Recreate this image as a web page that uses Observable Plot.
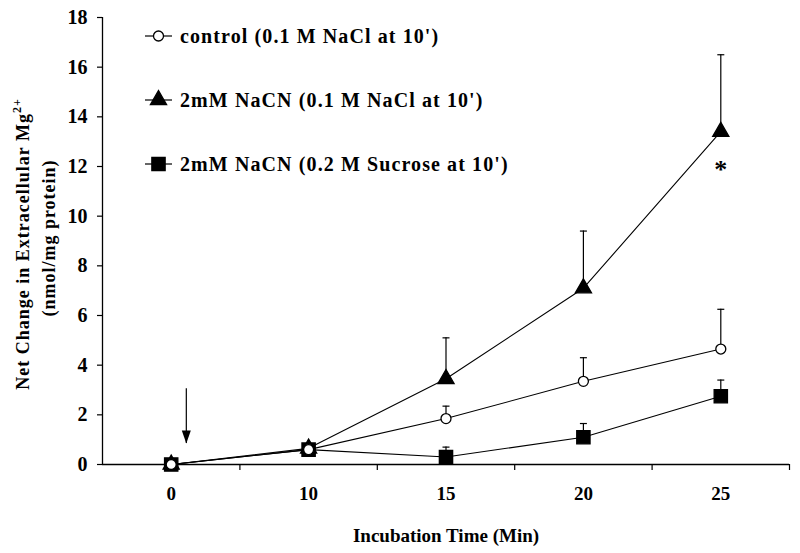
<!DOCTYPE html>
<html><head><meta charset="utf-8">
<script src="https://cdn.jsdelivr.net/npm/d3@7"></script>
<script src="https://cdn.jsdelivr.net/npm/@observablehq/plot@0.6"></script>
<style>body{margin:0;background:#fff}</style>
</head><body><div id="chart"></div>
<script>
// ---- data ----
const times = ["0", "10", "15", "20", "25"];
const controlMean = [0, 0.6, 1.85, 3.35, 4.65];
const controlErr  = [0, 0.12, 0.5, 0.95, 1.6];
const cnNaClMean  = [0, 0.65, 3.45, 7.1, 13.4];
const cnNaClErr   = [0, 0.1, 1.65, 2.3, 3.1];
const cnSucMean   = [0, 0.6, 0.3, 1.1, 2.75];
const cnSucErr    = [0, 0.12, 0.4, 0.55, 0.65];
const seriesNames = ["control (0.1 M NaCl at 10')", "2mM NaCN (0.1 M NaCl at 10')", "2mM NaCN (0.2 M Sucrose at 10')"];
const yTicks = [0, 2, 4, 6, 8, 10, 12, 14, 16, 18];
const yTitle = ["Net Change in Extracellular Mg", "(nmol/mg protein)"];
const xTitle = "Incubation Time (Min)";
const arrowMark = [{i: 0.11, from: 3.05, to: 0.85}];
const starMark = [{i: 4, v: 12.1, label: "*"}];

// ---- build ----
const idx = times.map((t, i) => i);
const rows = (mean, err) => times.map((t, i) => ({i, v: mean[i], hi: mean[i] + err[i]}));
const ctrl = rows(controlMean, controlErr);
const cnNaCl = rows(cnNaClMean, cnNaClErr);
const cnSuc = rows(cnSucMean, cnSucErr);

const capSymbol = {draw(ctx) { ctx.moveTo(-3.5, 0); ctx.lineTo(3.5, 0); }};
const headSymbol = {draw(ctx) { ctx.moveTo(-4.5, -13); ctx.lineTo(4.5, -13); ctx.lineTo(0, 0); ctx.closePath(); }};

const font = "'Liberation Serif', 'Times New Roman', serif";
const ML = 102, MR = 11, MT = 17, MB = 89, W = 800, H = 553;

const symbols = ["circle", "triangle", "square"];
const symR = [5, 6, 7.5];
const symFill = ["#fff", "#000", "#000"];

function errMarks(data) {
  return [
    Plot.ruleX(data.filter(d => d.hi > d.v), {x: "i", y1: "v", y2: "hi", stroke: "#000", strokeWidth: 1.2}),
    Plot.dot(data.filter(d => d.hi > d.v), {x: "i", y: "hi", symbol: capSymbol, r: 4, stroke: "#000", fill: "none", strokeWidth: 1.2})
  ];
}
function seriesMarks(data, k) {
  return [
    Plot.line(data, {x: "i", y: "v", stroke: "#000", strokeWidth: 1.1}),
    Plot.dot(data, {x: "i", y: "v", symbol: symbols[k], r: symR[k], fill: symFill[k], stroke: "#000", strokeWidth: 1.3})
  ];
}

function legendMark() {
  const g = d3.create("svg:g").attr("text-anchor", "start");
  const rowsY = [36, 100, 164];
  seriesNames.forEach((name, k) => {
    const y = rowsY[k];
    g.append("line").attr("x1", 145).attr("x2", 172).attr("y1", y).attr("y2", y).attr("stroke", "#000").attr("stroke-width", 1.2);
    const sym = d3.symbol(k === 0 ? d3.symbolCircle : k === 1 ? d3.symbolTriangle : d3.symbolSquare, Math.PI * symR[k] * symR[k])();
    g.append("path").attr("d", sym).attr("transform", `translate(158.5,${y})`).attr("fill", symFill[k]).attr("stroke", "#000").attr("stroke-width", 1.3);
    g.append("text").attr("x", 180).attr("y", y).attr("dy", "0.35em").attr("text-anchor", "start")
      .attr("font-family", font).attr("font-weight", "bold")
      .attr("font-size", 20).attr("letter-spacing", 1.1).text(name);
  });
  return g.node();
}

function yTitleMark() {
  const g = d3.create("svg:g").attr("font-family", font).attr("font-weight", "bold").attr("font-size", 18).attr("text-anchor", "middle").attr("letter-spacing", 1);
  const t1 = g.append("text").attr("transform", "translate(29,244) rotate(-90)");
  t1.append("tspan").text(yTitle[0]);
  t1.append("tspan").attr("font-size", 12).attr("dy", "-0.7em").text("2+");
  g.append("text").attr("transform", "translate(55,238) rotate(-90)").text(yTitle[1]);
  return g.node();
}

const chart = Plot.plot({
  width: W, height: H,
  marginLeft: ML, marginRight: MR, marginTop: MT, marginBottom: MB,
  x: {type: "linear", domain: [-0.5, 4.5]},
  y: {domain: [0, 18]},
  style: {fontFamily: font, fontWeight: "bold", fontSize: "19px", color: "#000", background: "#fff", overflow: "visible"},
  marks: [
    Plot.ruleY([0], {x1: -0.5, x2: 4.5, stroke: "#000", strokeWidth: 1.3}),
    Plot.ruleX([-0.5], {y1: 0, y2: 18, stroke: "#000", strokeWidth: 1.3}),
    Plot.axisY({ticks: yTicks, tickSize: 5, tickPadding: 10, label: null, fontSize: 20, strokeWidth: 1.2}),
    Plot.axisX({ticks: idx, tickSize: 0, tickPadding: 22, tickFormat: i => times[i], label: null, fontSize: 19}),
    Plot.axisX({ticks: [0.5, 1.5, 2.5, 3.5, 4.5], tickSize: 6, tickFormat: () => "", label: null, strokeWidth: 1.2}),
    Plot.text([xTitle], {frameAnchor: "bottom", dy: 71, lineAnchor: "middle", fontSize: 19, fontWeight: "bold"}),
    ...errMarks(ctrl), ...errMarks(cnNaCl), ...errMarks(cnSuc),
    ...seriesMarks(cnSuc, 2), ...seriesMarks(cnNaCl, 1), ...seriesMarks(ctrl, 0),
    Plot.ruleX(arrowMark, {x: "i", y1: "from", y2: "to", stroke: "#000", strokeWidth: 1.2}),
    Plot.dot(arrowMark, {x: "i", y: "to", symbol: headSymbol, r: 4, fill: "#000", stroke: "none"}),
    Plot.text(starMark, {x: "i", y: "v", text: "label", fontSize: 26, fontWeight: "bold", dy: 6}),
    legendMark,
    yTitleMark
  ]
});
document.getElementById("chart").append(chart);
</script>
</body></html>
